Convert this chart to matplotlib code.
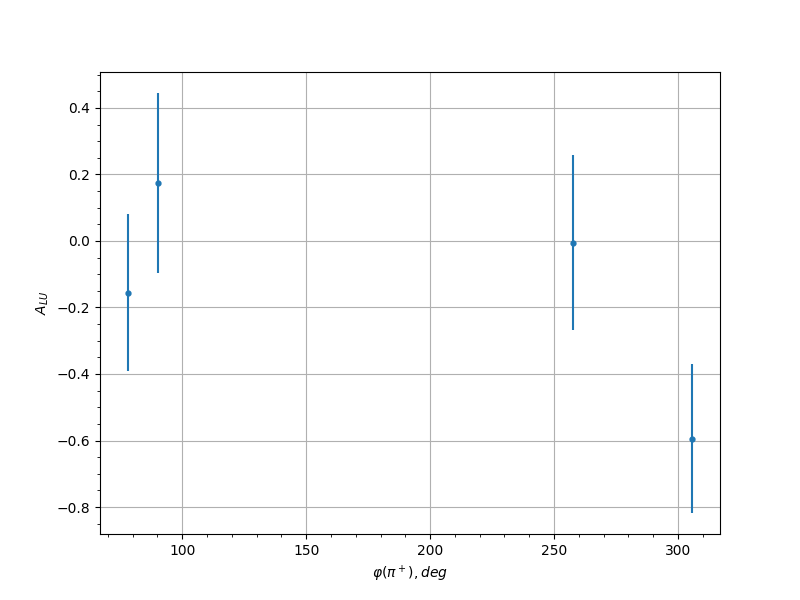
import matplotlib
matplotlib.use("Agg")
import matplotlib.pyplot as plt

# phi bins and beam-spin asymmetry
phi = [78.2, 90.3, 257.7, 305.6]
alu = [-0.155, 0.174, -0.005, -0.594]
alu_err = [0.236, 0.271, 0.263, 0.224]

fig, ax = plt.subplots(figsize=(8, 6), dpi=100)
ax.errorbar(phi, alu, yerr=alu_err, fmt='o', markersize=3.5, elinewidth=1.5)
ax.set_xlabel(r'$\varphi(\pi^+), deg$')
ax.set_ylabel(r'$A_{LU}$')
ax.minorticks_on()
ax.grid(True, which='major')
fig.savefig('out.png')
